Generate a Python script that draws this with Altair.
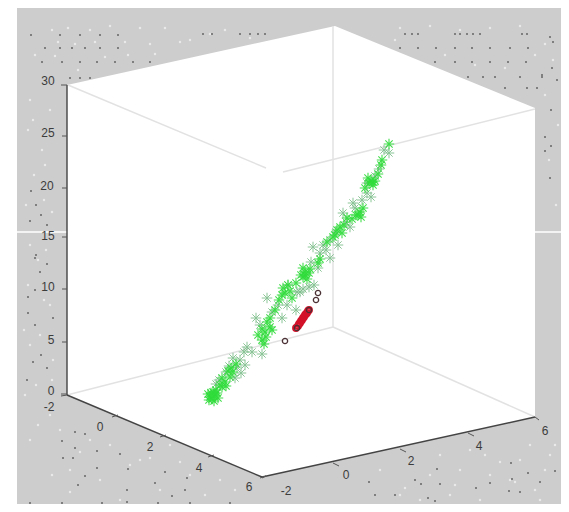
import altair as alt
import pandas as pd

PANEL_X = [17, 561]
PANEL_Y = [8, 504]
BOX_X = [67, 262, 335, 535]
BOX_TOP = [85, 42, 26, 108]
BOX_BOTTOM = [395, 477, 461, 417]

FAINT_X1 = [68, 283, 333, 67, 333]
FAINT_Y1 = [85, 172, 26, 395, 327]
FAINT_X2 = [266, 535, 333, 333, 535]
FAINT_Y2 = [168, 109, 327, 327, 417]

AXIS_X1 = [67, 67, 262]
AXIS_Y1 = [85, 395, 477]
AXIS_X2 = [67, 262, 535]
AXIS_Y2 = [395, 477, 417]

TICK_X1 = [61, 62, 62, 62, 62, 62, 61, 61, 112, 160, 208, 260, 262, 333, 400, 468, 535]
TICK_Y1 = [85, 136, 188, 237, 289, 342, 394, 396, 417, 437, 457, 478, 478, 463, 449, 433, 417]
TICK_X2 = [67, 67, 67, 67, 67, 67, 67, 67, 118, 166, 214, 266, 266, 339, 406, 474, 539]
TICK_Y2 = [85, 136, 188, 237, 289, 342, 394, 395, 415, 435, 455, 476, 476, 466, 452, 436, 420]

SEAM_X1 = [17, 535]
SEAM_X2 = [67, 561]
SEAM_Y = [232, 232]

LABELS = ["30", "25", "20", "15", "10", "5", "0", "-2", "0", "2", "4", "6", "-2", "0", "2", "4", "6"]
LABEL_X = [48, 48, 47, 48, 48, 51, 51, 49, 100, 150, 199, 249, 286, 346, 411, 479, 545]
LABEL_Y = [81, 133, 186, 236, 287, 340, 391, 407, 427, 447, 468, 487, 491, 475, 461, 446, 431]

GREEN_BRIGHT_X = [373, 371, 375, 369, 373, 360, 358, 363, 356, 361, 305, 303, 309, 307, 301, 305,
                  288, 285, 290, 282, 275, 267, 270, 265, 262, 266, 233, 230, 225, 222, 226,
                  213, 210, 212, 215, 209, 214, 217, 340, 337, 335, 327, 318, 381, 389,
                  216, 220, 208, 211, 214, 218, 222, 228, 231, 236, 262, 270, 272, 258, 264,
                  279, 283, 292, 296, 303, 310, 344, 347, 352, 365, 368, 378, 382, 342, 333, 320]
GREEN_BRIGHT_Y = [182, 181, 181, 183, 185, 212, 215, 208, 215, 217, 275, 277, 273, 279, 275, 272,
                  285, 293, 291, 295, 310, 322, 327, 332, 340, 337, 372, 377, 382, 387, 386,
                  392, 397, 399, 395, 400, 396, 393, 227, 230, 235, 242, 263, 165, 144,
                  390, 385, 394, 393, 401, 398, 378, 371, 368, 364, 329, 318, 330, 335, 344,
                  300, 288, 298, 283, 268, 269, 225, 218, 219, 188, 178, 174, 160, 233, 237, 259]
GREEN_DULL_X = [389, 379, 367, 367, 371, 353, 343, 350, 338, 330, 313, 320, 330, 318, 288, 300, 303, 297,
                309, 267, 278, 287, 282, 260, 247, 262, 233, 240, 245, 237, 229, 219,
                384, 362, 375, 346, 355, 326, 336, 311, 323, 296, 314, 272, 256, 252, 244, 241, 226, 235, 216]
GREEN_DULL_Y = [153, 169, 183, 193, 197, 203, 213, 227, 245, 240, 247, 253, 258, 268, 285, 292, 289, 292,
                287, 298, 305, 305, 318, 325, 347, 354, 358, 360, 365, 367, 366, 380,
                150, 200, 176, 222, 208, 250, 232, 262, 245, 310, 285, 312, 318, 352, 352, 373, 372, 378, 384]

RED_X = [296, 298, 299, 300, 301, 302, 303, 304, 305, 306, 307, 308, 309]
RED_Y = [328, 326, 324, 323, 321, 320, 318, 317, 315, 314, 313, 311, 310]
DARK_X = [285, 316, 318, 297, 309]
DARK_Y = [341, 300, 293, 328, 310]

SPECK_X = [31, 60, 80, 100, 118, 45, 60, 72, 85, 100, 118, 42, 62, 80, 97, 115, 133, 150, 70, 80, 90,
           203, 212, 240, 250, 258, 265, 405, 412, 418, 455, 460, 467, 473, 480, 522, 527,
           400, 418, 436, 455, 472, 490, 510, 528, 435, 455, 472, 490, 508, 526,
           468, 483, 495, 520, 542, 505, 527, 537, 550, 553, 552, 542, 557, 551, 545, 551, 545, 550,
           31, 36, 41, 30, 47, 36, 35, 40, 47, 35, 28, 53, 35, 28, 41, 47, 27, 33,
           75, 85, 62, 75, 97, 120, 63, 73, 97, 128, 165, 187, 85, 155, 185, 78, 127, 172, 102, 127,
           158, 190, 30, 62, 230, 437, 511, 555, 512, 369, 415, 476, 421, 440, 490, 528, 375,
           428, 520, 395, 435, 509, 540]
SPECK_Y = [35, 35, 35, 35, 35, 48, 48, 48, 48, 48, 48, 62, 62, 62, 62, 62, 62, 62, 78, 78, 78,
           34, 34, 34, 34, 34, 34, 34, 34, 34, 34, 34, 34, 34, 34, 34, 34,
           48, 48, 48, 48, 48, 48, 48, 48, 62, 62, 62, 62, 62, 62,
           77, 77, 77, 77, 77, 88, 88, 88, 37, 42, 68, 75, 80, 110, 137, 146, 151, 178,
           191, 205, 215, 221, 225, 255, 258, 272, 264, 290, 297, 318, 325, 313, 355, 368, 380, 362,
           432, 434, 441, 448, 451, 454, 458, 458, 468, 469, 472, 478, 476, 483, 490, 485, 490, 496, 503, 502,
           503, 503, 503, 503, 503, 469, 463, 471, 479, 482, 480, 488, 484, 484, 483, 473, 495,
           498, 492, 495, 501, 491, 482]

PALE_X = [52, 68, 90, 110, 140, 165, 58, 75, 95, 125, 150, 180, 210, 225, 250, 400, 430, 460, 490, 520, 545,
          30, 28, 50, 45, 26, 34, 44, 52, 30, 38, 28, 44, 50, 30, 40, 25, 52,
          60, 90, 110, 140, 170, 200, 220, 70, 100, 130, 160, 190, 30, 50, 440, 470, 500, 530, 550, 400, 430,
          460, 490, 520, 545, 420, 450, 480, 510, 540, 553, 545, 558, 549, 556,
          35, 55, 78, 105, 128, 155, 190, 395, 445, 475, 505, 535, 38, 52, 70, 80, 120, 150, 180,
          205, 235, 380, 405, 455, 485, 515, 535, 555, 42, 33, 46, 24, 53, 36]
PALE_Y = [30, 28, 30, 26, 28, 28, 42, 44, 42, 42, 44, 42, 34, 30, 38, 28, 26, 30, 28, 26, 44,
          100, 130, 110, 165, 205, 175, 200, 212, 245, 260, 285, 300, 305, 345, 335, 395, 380,
          430, 440, 445, 460, 445, 465, 480, 470, 480, 465, 490, 475, 440, 415, 455, 450, 462, 445, 455, 495,
          475, 470, 475, 460, 470, 500, 495, 500, 480, 500, 60, 95, 125, 160, 205,
          55, 56, 70, 57, 55, 54, 40, 40, 55, 65, 68, 55, 425, 475, 492, 452, 500, 458, 462,
          495, 490, 470, 488, 485, 455, 482, 490, 445, 150, 120, 250, 330, 360, 385]

XS = alt.Scale(domain=[8, 561], range=[0, 553], zero=False, nice=False)
YS = alt.Scale(domain=[8, 504], range=[0, 496], zero=False, nice=False)
X = alt.X("x:Q", scale=XS, axis=None)
Y = alt.Y("y:Q", scale=YS, axis=None)


def pts(xs, ys):
    return pd.DataFrame({"x": xs, "y": ys})


def segs(x1, y1, x2, y2):
    return pd.DataFrame({"x": x1, "y": y1, "x2": x2, "y2": y2})


panel = alt.Chart(pd.DataFrame({"x": [PANEL_X[0]], "x2": [PANEL_X[1]], "y": [PANEL_Y[0]], "y2": [PANEL_Y[1]]})).mark_rect(
    color="#cdcdcd"
).encode(x=X, x2="x2:Q", y=Y, y2="y2:Q")

speck = alt.Chart(pts(SPECK_X, SPECK_Y)).mark_circle(color="#3a3a3a", size=4, opacity=0.7).encode(x=X, y=Y)
pale = alt.Chart(pts(PALE_X, PALE_Y)).mark_circle(color="#f0f0f0", size=6, opacity=0.8).encode(x=X, y=Y)

box = alt.Chart(pd.DataFrame({"x": BOX_X, "y": BOX_TOP, "y2": BOX_BOTTOM})).mark_area(
    color="#ffffff", opacity=1
).encode(x=X, y=Y, y2="y2:Q")

seam = alt.Chart(segs(SEAM_X1, SEAM_Y, SEAM_X2, SEAM_Y)).mark_rule(color="#ffffff", strokeWidth=1.5).encode(
    x=X, y=Y, x2="x2:Q", y2="y2:Q"
)
faint = alt.Chart(segs(FAINT_X1, FAINT_Y1, FAINT_X2, FAINT_Y2)).mark_rule(color="#e2e2e2", strokeWidth=1.5).encode(
    x=X, y=Y, x2="x2:Q", y2="y2:Q"
)
axes = alt.Chart(segs(AXIS_X1, AXIS_Y1, AXIS_X2, AXIS_Y2)).mark_rule(color="#444444", strokeWidth=1.4).encode(
    x=X, y=Y, x2="x2:Q", y2="y2:Q"
)
ticks = alt.Chart(segs(TICK_X1, TICK_Y1, TICK_X2, TICK_Y2)).mark_rule(color="#555555", strokeWidth=1).encode(
    x=X, y=Y, x2="x2:Q", y2="y2:Q"
)
labels = alt.Chart(pd.DataFrame({"x": LABEL_X, "y": LABEL_Y, "t": LABELS})).mark_text(
    font="Liberation Sans", fontSize=12, color="#3c3c3c", align="center", baseline="middle"
).encode(x=X, y=Y, text="t:N")

STAR = "M-1,0L1,0M0,-1L0,1M-.7,-.7L.7,.7M-.7,.7L.7,-.7"
dull = alt.Chart(pts(GREEN_DULL_X, GREEN_DULL_Y)).mark_point(
    shape=STAR, size=110, color="#7fbe8c", strokeWidth=1, opacity=0.9
).encode(x=X, y=Y)
bright = alt.Chart(pts(GREEN_BRIGHT_X, GREEN_BRIGHT_Y)).mark_point(
    shape=STAR, size=110, color="#2fdc3a", strokeWidth=1.1, opacity=0.9
).encode(x=X, y=Y)
red = alt.Chart(pts(RED_X, RED_Y)).mark_point(
    shape="circle", size=34, color="#d3122a", strokeWidth=2, opacity=1
).encode(x=X, y=Y)
dark = alt.Chart(pts(DARK_X, DARK_Y)).mark_point(
    shape="circle", size=28, color="#4a3034", strokeWidth=1.3, opacity=1
).encode(x=X, y=Y)

chart = alt.layer(panel, pale, speck, box, seam, faint, axes, ticks, labels, dull, bright, red, dark).properties(
    width=553, height=496, padding=0, autosize=alt.AutoSizeParams(type="none"), background="#ffffff"
).configure_view(strokeWidth=0)

chart.save("out.html", embed_options={"renderer": "svg", "actions": False})
